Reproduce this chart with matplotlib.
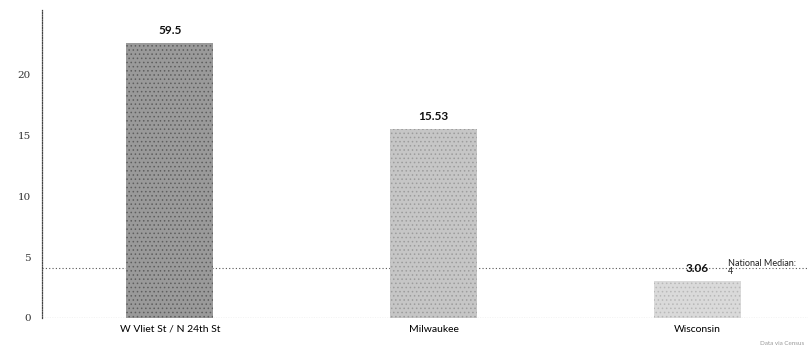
import matplotlib
matplotlib.use("Agg")
import matplotlib.pyplot as plt

categories = ["W Vliet St / N 24th St", "Milwaukee", "Wisconsin"]
values = [59.5, 15.53, 3.06]
value_labels = ["59.5", "15.53", "3.06"]
display_cap = 22.6
national_median = 4.1
national_label = "National Median:\n4"
yticks = [0, 5, 10, 15, 20]

bar_colors = ["#9a9a9a", "#c6c6c6", "#dadada"]
hatch_colors = ["#5e5e5e", "#9c9c9c", "#b8b8b8"]

plt.rcParams['hatch.linewidth'] = 0.6
fig = plt.figure(figsize=(8.08, 3.49), dpi=100)
ax = fig.add_axes([0.052, 0.089, 0.948, 0.882])

x = list(range(len(categories)))
shown = [min(v, display_cap) for v in values]
ax.axhline(national_median, color="#555555", linestyle=(0, (1, 2)), linewidth=0.8, zorder=1)
ax.axhline(0, color="#444444", linestyle=(0, (1, 1.2)), linewidth=0.8, zorder=1)
bars = ax.bar(x, shown, width=0.33, color=bar_colors, zorder=2, linewidth=0)
for b, hc in zip(bars, hatch_colors):
    b.set_hatch("....")
    b.set_edgecolor(hc)

for xi, s, lab in zip(x, shown, value_labels):
    ax.text(xi, s + 0.55, lab, ha="center", va="bottom", fontsize=8.5,
            fontweight="bold", family="Lato", color="#111111", zorder=3)

ax.text(2.115, national_median + 0.05, national_label, ha="left", va="center",
        fontsize=6.5, family="Lato", color="#222222", linespacing=0.9)

ax.set_xlim(-0.485, 2.42)
ax.set_ylim(0, 25.3)
ax.set_xticks(x)
ax.set_xticklabels(categories, family="Lato", fontsize=7.5)
ax.set_yticks(yticks)
ax.set_yticklabels([str(t) for t in yticks], family="DejaVu Serif", fontsize=7.5, color="#333333")
ax.tick_params(axis="both", length=0)
ax.tick_params(axis="y", pad=8)
ax.tick_params(axis="x", pad=5)
for s in ["top", "right", "bottom"]:
    ax.spines[s].set_visible(False)
ax.spines["left"].set_linestyle((0, (0.8, 1.2)))
ax.spines["left"].set_color("#444444")
ax.spines["left"].set_linewidth(0.9)

fig.text(0.995, 0.01, "Data via Census", ha="right", va="bottom", fontsize=4.5,
         color="#999999", family="Lato")

fig.savefig("out.png", dpi=100)
